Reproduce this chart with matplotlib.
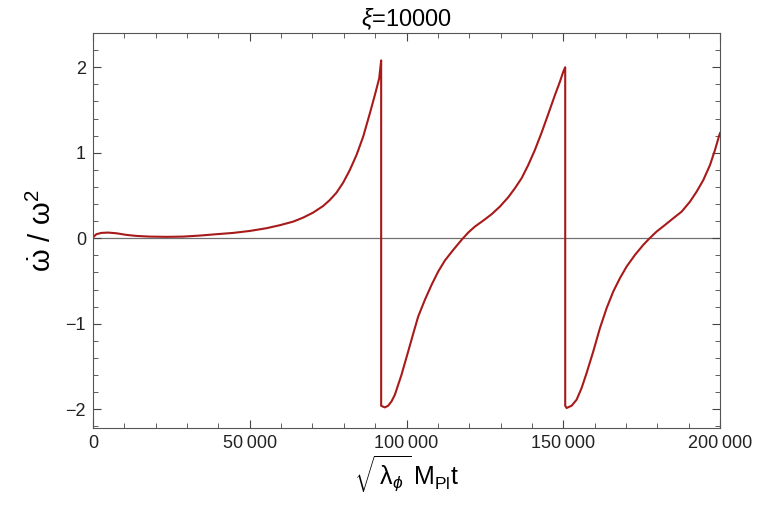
import matplotlib
matplotlib.use('Agg')
import matplotlib.pyplot as plt
from matplotlib.ticker import MultipleLocator, FuncFormatter

plt.rcParams['font.family'] = ['Liberation Sans', 'DejaVu Sans']
plt.rcParams['mathtext.fontset'] = 'custom'
plt.rcParams['mathtext.rm'] = 'Liberation Sans'
plt.rcParams['mathtext.it'] = 'Liberation Sans:italic'

# values: t (sqrt(lambda) M_Pl t) and omega_dot / omega^2
t_seg1 = [0, 1060, 2660, 4790, 7450, 10640, 13830, 18090, 23410, 28730,
          34050, 39370, 44680, 50000, 55320, 59570, 63830, 67020, 70210,
          73400, 75530, 77660, 79780, 81910, 84040, 86160, 88290, 89890,
          91270, 91900]
y_seg1 = [0.01, 0.047, 0.062, 0.066, 0.058, 0.039, 0.027, 0.019, 0.016, 0.019,
          0.031, 0.047, 0.062, 0.085, 0.117, 0.152, 0.194, 0.241, 0.300,
          0.377, 0.447, 0.533, 0.650, 0.798, 0.973, 1.187, 1.460, 1.674,
          1.869, 2.08]

t_seg2 = [91900, 93080, 94140, 95210, 96270, 97330, 98390, 99460, 100520,
          102110, 103710, 105840, 107970, 110090, 112220, 114880, 117540,
          119660, 121790, 124450, 127110, 129770, 132430, 134550, 136680,
          138810, 140930, 143060, 145190, 147320, 148910, 149970, 150600]
y_seg2 = [-1.96, -1.979, -1.959, -1.908, -1.831, -1.714, -1.597, -1.460, -1.324,
          -1.118, -0.916, -0.721, -0.546, -0.390, -0.261, -0.137, -0.020,
          0.066, 0.136, 0.206, 0.280, 0.370, 0.479, 0.584, 0.701,
          0.856, 1.032, 1.234, 1.452, 1.674, 1.830, 1.947, 2.0]

t_seg3 = [150600, 151040, 152640, 154230, 155830, 157420, 159550, 161680,
          163810, 165930, 168060, 170190, 172850, 175500, 177420, 179760,
          182420, 185080, 187740, 190400, 192520, 194650, 196780, 198370,
          199760, 200000]
y_seg3 = [-1.96, -1.986, -1.959, -1.889, -1.752, -1.577, -1.324, -1.051,
          -0.818, -0.623, -0.467, -0.331, -0.195, -0.078, -0.004, 0.078,
          0.155, 0.234, 0.311, 0.428, 0.545, 0.681, 0.856, 1.032,
          1.207, 1.23]

t_all = t_seg1 + t_seg2 + t_seg3
y_all = y_seg1 + y_seg2 + y_seg3

fig = plt.figure(figsize=(7.58, 5.12), dpi=100)
ax = fig.add_axes([0.1227, 0.164, 0.8273, 0.7715])

ax.axhline(0, color='#707070', lw=0.9, zorder=1)
ax.plot(t_all, y_all, color='#a81a1a', lw=1.5, zorder=2)

ax.set_xlim(0, 200000)
ax.set_ylim(-2.22, 2.40)

ax.xaxis.set_major_locator(MultipleLocator(50000))
ax.xaxis.set_minor_locator(MultipleLocator(10000))
ax.yaxis.set_major_locator(MultipleLocator(1))
ax.yaxis.set_minor_locator(MultipleLocator(0.2))
ax.xaxis.set_major_formatter(FuncFormatter(lambda v, p: f'{v:,.0f}'.replace(',', '\u2009')))
ax.yaxis.set_major_formatter(FuncFormatter(lambda v, p: f'{v:.0f}'.replace('-', '\u2212')))

ax.tick_params(which='both', direction='in', top=True, right=True,
               color='#444444', labelsize=13, labelcolor='#222222')
ax.tick_params(which='major', length=6, width=0.8, pad=5)
ax.tick_params(which='minor', length=3.5, width=0.6)
for s in ax.spines.values():
    s.set_color('#555555')
    s.set_linewidth(0.8)

ax.set_title(r'$\xi$=10000', fontsize=17, pad=5)
ax.set_xlabel(r'$\sqrt{\,\mathrm{\lambda}_\phi\,}\,\mathrm{M_{Pl}t}$', fontsize=18, labelpad=1)
ax.set_ylabel(r'$\dot{\mathrm{\omega}}\ /\ \mathrm{\omega}^2$', fontsize=21, labelpad=6)

fig.savefig('out.png', dpi=100)
